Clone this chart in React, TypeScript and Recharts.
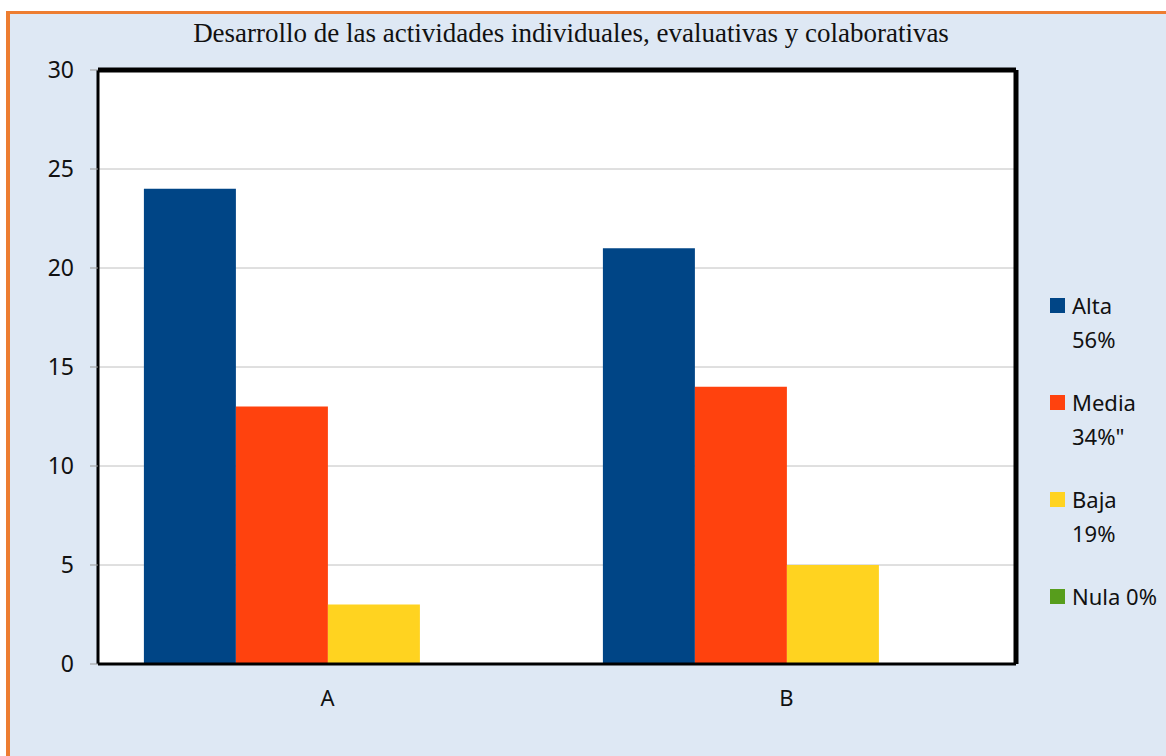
import { BarChart, Bar, CartesianGrid, XAxis, YAxis } from 'recharts';

const categories = ['A', 'B'];
const alta = [24, 21];
const media = [13, 14];
const baja = [3, 5];
const nula = [0, 0];
const yTicks = [0, 5, 10, 15, 20, 25, 30];

const series = [
  { key: 'alta', label: ['Alta', '56%'], color: '#004586' },
  { key: 'media', label: ['Media', '34%"'], color: '#ff420e' },
  { key: 'baja', label: ['Baja', '19%'], color: '#ffd320' },
  { key: 'nula', label: ['Nula 0%'], color: '#579d1c' },
];

const data = categories.map((name, i) => ({
  name,
  alta: alta[i],
  media: media[i],
  baja: baja[i],
  nula: nula[i],
}));

const font = '"Noto Sans", "Open Sans", sans-serif';

// legend kept outside the chart so it doesn't eat into the plot area
const LegendBox = () => (
  <div
    style={{
      position: 'absolute',
      left: 1050,
      top: 288,
      fontFamily: font,
      fontSize: 22,
      color: '#111',
      lineHeight: '34px',
    }}
  >
    {series.map((s) => (
      <div key={s.key} style={{ position: 'relative', paddingLeft: 22, marginBottom: 29 }}>
        <span
          style={{
            position: 'absolute',
            left: 0,
            top: 10,
            width: 15,
            height: 15,
            background: s.color,
          }}
        />
        {s.label.map((l) => (
          <div key={l}>{l}</div>
        ))}
      </div>
    ))}
  </div>
);

export default function App() {
  return (
    <div style={{ position: 'absolute', left: 0, top: 0, width: 1166, height: 756, background: '#fff', overflow: 'hidden' }}>
      <div
        style={{
          position: 'absolute',
          left: 6,
          top: 11,
          width: 1170,
          height: 760,
          background: '#dee8f4',
          borderLeft: '4px solid #ed7d31',
          borderTop: '3px solid #ed7d31',
        }}
      />
      <div
        style={{
          position: 'absolute',
          left: 0,
          top: 18,
          width: 1142,
          textAlign: 'center',
          fontFamily: '"Liberation Serif", "Times New Roman", serif',
          fontSize: 27,
          color: '#111',
        }}
      >
        Desarrollo de las actividades individuales, evaluativas y colaborativas
      </div>
      <div style={{ position: 'absolute', left: 0, top: 0 }}>
        <BarChart
          width={1166}
          height={756}
          data={data}
          margin={{ top: 70, right: 150, left: 38, bottom: 62 }}
          barCategoryGap="10%"
          barGap={0}
        >
          <CartesianGrid vertical={false} stroke="#c0c0c0" fill="#ffffff" />
          {/* thick frame on top and right of the plot */}
          <CartesianGrid
            stroke="#000"
            strokeWidth={5}
            horizontalCoordinatesGenerator={({ offset }: any) => [offset.top]}
            verticalCoordinatesGenerator={({ offset }: any) => [offset.left + offset.width]}
          />
          <XAxis
            dataKey="name"
            height={30}
            axisLine={{ stroke: '#000', strokeWidth: 3 }}
            tickLine={false}
            tickMargin={20}
            tick={{ fontFamily: font, fontSize: 22, fill: '#111' }}
          />
          <YAxis
            width={60}
            domain={[0, 30]}
            ticks={yTicks}
            interval={0}
            axisLine={{ stroke: '#000', strokeWidth: 3 }}
            tickLine={{ stroke: '#999' }}
            tickSize={8}
            tickMargin={16}
            tick={{ fontFamily: font, fontSize: 23, fill: '#111' }}
          />
          {series.map((s) => (
            <Bar key={s.key} dataKey={s.key} fill={s.color} isAnimationActive={false} />
          ))}
        </BarChart>
      </div>
      <LegendBox />
    </div>
  );
}
